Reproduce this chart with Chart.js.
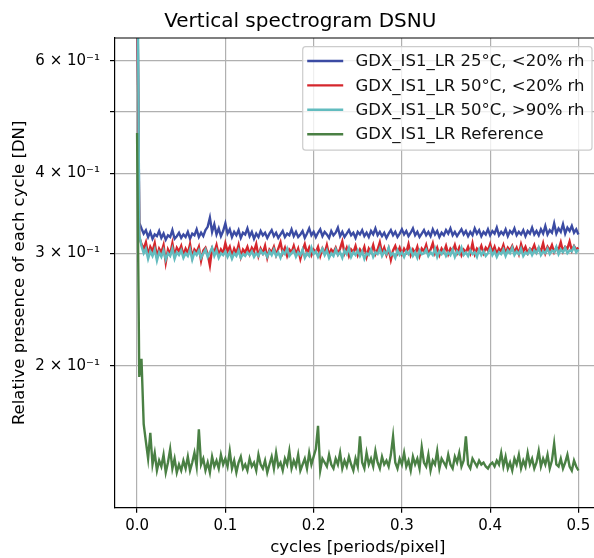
<!DOCTYPE html>
<html>
<head>
<meta charset="utf-8">
<script src="https://cdn.jsdelivr.net/npm/chart.js@4"></script>
<style>
  html, body { margin: 0; padding: 0; overflow: hidden; background: #fff; }
  canvas { display: block; }
</style>
</head>
<body>
<canvas id="chart" width="601" height="558"></canvas>
<script>
// --- data (log y axis) ---
const seriesLabels = [
  "GDX_IS1_LR 25°C, <20% rh",
  "GDX_IS1_LR 50°C, <20% rh",
  "GDX_IS1_LR 50°C, >90% rh",
  "GDX_IS1_LR Reference"
];
const seriesColors = ["#3b4ba3", "#d5262c", "#62bcbf", "#4a8044"];

const freqStep = 0.0025;   // cycles grid from 0 to 0.5
const xTicks = [0.0, 0.1, 0.2, 0.3, 0.4, 0.5];
const yTicks = [0.2, 0.3, 0.4, 0.5, 0.6];
const yTickLabels = { 0.2: "2 × 10⁻¹", 0.3: "3 × 10⁻¹", 0.4: "4 × 10⁻¹", 0.5: "", 0.6: "6 × 10⁻¹" };

const blue25dry = [0.90,
  0.335,0.328,0.322,0.326,0.318,0.324,0.316,0.321,0.319,0.325,
  0.317,0.322,0.315,0.320,0.318,0.326,0.316,0.319,0.323,0.317,
  0.321,0.318,0.324,0.316,0.322,0.320,0.327,0.318,0.323,0.319,
  0.326,0.330,0.341,0.324,0.333,0.321,0.328,0.319,0.325,0.334,
  0.322,0.327,0.318,0.324,0.320,0.326,0.317,0.323,0.321,0.328,
  0.319,0.324,0.316,0.322,0.318,0.325,0.320,0.323,0.317,0.322,
  0.326,0.319,0.323,0.317,0.321,0.325,0.318,0.322,0.320,0.327,
  0.319,0.324,0.318,0.321,0.325,0.317,0.322,0.328,0.320,0.324,
  0.318,0.323,0.327,0.319,0.324,0.321,0.317,0.325,0.320,0.323,
  0.329,0.319,0.324,0.318,0.322,0.326,0.320,0.323,0.317,0.324,
  0.321,0.326,0.319,0.323,0.318,0.325,0.321,0.328,0.320,0.324,
  0.319,0.323,0.317,0.322,0.326,0.320,0.324,0.318,0.322,0.327,
  0.321,0.325,0.319,0.323,0.328,0.320,0.324,0.318,0.322,0.326,
  0.320,0.324,0.319,0.327,0.321,0.325,0.318,0.323,0.320,0.326,
  0.322,0.328,0.320,0.324,0.319,0.323,0.327,0.321,0.325,0.319,
  0.324,0.320,0.328,0.322,0.326,0.319,0.324,0.321,0.327,0.320,
  0.325,0.322,0.329,0.320,0.324,0.321,0.327,0.319,0.325,0.322,
  0.328,0.320,0.324,0.321,0.326,0.319,0.325,0.322,0.329,0.321,
  0.325,0.320,0.327,0.322,0.331,0.321,0.326,0.323,0.334,0.322,
  0.328,0.324,0.333,0.322,0.329,0.325,0.331,0.323,0.327,0.321];

const red50dry = [0.90,
  0.318,0.310,0.305,0.312,0.298,0.307,0.302,0.311,0.296,0.305,
  0.301,0.309,0.290,0.304,0.299,0.311,0.297,0.306,0.302,0.308,
  0.298,0.305,0.300,0.310,0.296,0.304,0.301,0.307,0.292,0.303,
  0.306,0.299,0.287,0.305,0.301,0.309,0.298,0.304,0.300,0.311,
  0.302,0.307,0.297,0.305,0.300,0.309,0.296,0.304,0.301,0.307,
  0.299,0.306,0.302,0.310,0.297,0.305,0.300,0.308,0.295,0.304,
  0.301,0.307,0.298,0.305,0.312,0.300,0.306,0.297,0.304,0.301,
  0.308,0.299,0.305,0.294,0.303,0.310,0.300,0.306,0.298,0.304,
  0.301,0.307,0.297,0.305,0.300,0.309,0.298,0.304,0.301,0.306,
  0.299,0.305,0.313,0.300,0.306,0.297,0.304,0.301,0.308,0.298,
  0.304,0.300,0.307,0.296,0.305,0.301,0.309,0.299,0.304,0.312,
  0.300,0.306,0.298,0.305,0.293,0.303,0.308,0.300,0.306,0.299,
  0.305,0.301,0.310,0.298,0.304,0.300,0.307,0.297,0.305,0.302,
  0.309,0.299,0.304,0.311,0.300,0.306,0.298,0.305,0.301,0.308,
  0.299,0.305,0.302,0.309,0.300,0.306,0.298,0.304,0.301,0.307,
  0.300,0.311,0.299,0.305,0.302,0.308,0.300,0.306,0.303,0.310,
  0.301,0.307,0.299,0.305,0.302,0.309,0.300,0.306,0.303,0.308,
  0.301,0.306,0.299,0.310,0.302,0.307,0.300,0.305,0.303,0.309,
  0.301,0.306,0.302,0.311,0.300,0.307,0.303,0.309,0.301,0.306,
  0.304,0.312,0.302,0.307,0.305,0.313,0.303,0.308,0.304,0.306];

const cyan50wet = [1.20,
  0.320,0.308,0.300,0.305,0.294,0.302,0.297,0.304,0.292,0.301,
  0.296,0.303,0.293,0.300,0.297,0.305,0.294,0.301,0.298,0.303,
  0.295,0.300,0.297,0.304,0.293,0.301,0.298,0.303,0.295,0.300,
  0.304,0.296,0.301,0.306,0.297,0.303,0.295,0.300,0.298,0.302,
  0.296,0.301,0.294,0.300,0.297,0.303,0.295,0.299,0.297,0.301,
  0.298,0.302,0.296,0.300,0.297,0.303,0.299,0.301,0.296,0.302,
  0.298,0.304,0.297,0.301,0.295,0.302,0.299,0.305,0.297,0.300,
  0.303,0.296,0.301,0.298,0.304,0.295,0.300,0.297,0.306,0.299,
  0.302,0.296,0.301,0.305,0.298,0.303,0.295,0.300,0.297,0.304,
  0.298,0.301,0.295,0.303,0.299,0.306,0.296,0.301,0.298,0.303,
  0.297,0.302,0.294,0.300,0.298,0.304,0.296,0.301,0.299,0.305,
  0.297,0.302,0.299,0.306,0.298,0.300,0.295,0.303,0.298,0.301,
  0.296,0.302,0.299,0.304,0.297,0.301,0.295,0.303,0.299,0.300,
  0.304,0.297,0.301,0.298,0.305,0.296,0.302,0.299,0.303,0.297,
  0.301,0.298,0.304,0.296,0.302,0.299,0.306,0.298,0.301,0.297,
  0.303,0.299,0.301,0.296,0.304,0.298,0.302,0.297,0.300,0.305,
  0.298,0.302,0.296,0.301,0.299,0.304,0.297,0.303,0.300,0.306,
  0.298,0.302,0.299,0.305,0.297,0.301,0.299,0.304,0.298,0.303,
  0.300,0.306,0.298,0.302,0.300,0.305,0.299,0.303,0.301,0.307,
  0.299,0.304,0.301,0.306,0.300,0.303,0.302,0.307,0.301,0.304];

const greenRef = [0.463,
  0.192,0.205,0.162,0.152,0.143,0.157,0.140,0.146,0.137,0.142,
  0.139,0.145,0.136,0.141,0.148,0.138,0.143,0.136,0.140,0.137,
  0.142,0.138,0.144,0.137,0.141,0.146,0.139,0.159,0.140,0.143,
  0.137,0.141,0.136,0.144,0.139,0.142,0.138,0.145,0.140,0.143,
  0.139,0.147,0.138,0.142,0.136,0.141,0.144,0.138,0.140,0.137,
  0.143,0.139,0.141,0.137,0.145,0.140,0.138,0.142,0.136,0.140,
  0.144,0.138,0.146,0.139,0.141,0.137,0.143,0.140,0.147,0.138,
  0.142,0.139,0.145,0.137,0.140,0.143,0.138,0.146,0.140,0.144,
  0.148,0.161,0.137,0.143,0.141,0.139,0.145,0.140,0.138,0.143,
  0.140,0.146,0.138,0.142,0.139,0.144,0.140,0.137,0.143,0.139,
  0.155,0.141,0.138,0.146,0.140,0.143,0.139,0.147,0.141,0.138,
  0.144,0.140,0.142,0.139,0.145,0.155,0.141,0.138,0.143,0.140,
  0.146,0.139,0.142,0.137,0.144,0.140,0.143,0.138,0.149,0.141,
  0.139,0.145,0.137,0.142,0.140,0.147,0.138,0.143,0.141,0.139,
  0.145,0.140,0.138,0.144,0.141,0.146,0.139,0.142,0.155,0.140,
  0.138,0.143,0.141,0.139,0.142,0.140,0.141,0.139,0.138,0.140,
  0.141,0.139,0.142,0.140,0.146,0.139,0.144,0.138,0.141,0.137,
  0.143,0.140,0.145,0.138,0.142,0.139,0.146,0.140,0.143,0.138,
  0.141,0.147,0.139,0.143,0.140,0.145,0.138,0.142,0.151,0.140,
  0.139,0.143,0.138,0.141,0.145,0.139,0.137,0.142,0.139,0.137];

const allSeries = [blue25dry, red50dry, cyan50wet, greenRef];

// x grid (frequency bins)
const cycles = blue25dry.map((_, i) => +(i * freqStep).toFixed(4));

const FONT = "'DejaVu Sans', sans-serif";
const LABEL_SIZE = 16.5;

// =========================
// legend inside the axes + top spine
// =========================
const boxLegend = {
  id: "boxLegend",
  afterDraw(chart) {
    const ctx = chart.ctx;
    const area = chart.chartArea;

    // top spine
    ctx.save();
    ctx.strokeStyle = "#000";
    ctx.lineWidth = 1.2;
    ctx.beginPath();
    ctx.moveTo(area.left, area.top);
    ctx.lineTo(area.right, area.top);
    ctx.stroke();

    ctx.font = LABEL_SIZE + "px " + FONT;
    const textW = Math.max(...seriesLabels.map(t => ctx.measureText(t).width));
    const w = 4.5 + 36 + 12.3 + textW + 7.5;
    const h = 103.5;
    const x0 = area.right - 8.5 - w;
    const y0 = area.top + 8.7;

    ctx.beginPath();
    ctx.roundRect(x0, y0, w, h, 3);
    ctx.fillStyle = "rgba(255,255,255,0.8)";
    ctx.fill();
    ctx.strokeStyle = "#cccccc";
    ctx.lineWidth = 1.2;
    ctx.stroke();

    chart.data.datasets.forEach((ds, i) => {
      const cy = y0 + 14.3 + i * 24.4;
      ctx.strokeStyle = ds.borderColor;
      ctx.lineWidth = 2.4;
      ctx.beginPath();
      ctx.moveTo(x0 + 4.5, cy);
      ctx.lineTo(x0 + 40.5, cy);
      ctx.stroke();
      ctx.fillStyle = "#111";
      ctx.textBaseline = "middle";
      ctx.textAlign = "left";
      ctx.fillText(ds.label, x0 + 52.8, cy + 1);
    });
    ctx.restore();
  }
};

const datasets = allSeries.map((vals, i) => ({
  label: seriesLabels[i],
  data: vals.map((v, k) => ({ x: cycles[k], y: v })),
  borderColor: seriesColors[i],
  borderWidth: 2.4,
  pointRadius: 0,
  tension: 0,
  order: allSeries.length - i
}));

new Chart(document.getElementById("chart"), {
  type: "line",
  data: { datasets },
  plugins: [boxLegend],
  options: {
    responsive: false,
    animation: false,
    devicePixelRatio: 1,
    layout: { padding: { left: 0, right: 0.5, top: 0, bottom: 0 } },
    plugins: {
      legend: { display: false },
      tooltip: { enabled: false },
      title: {
        display: true,
        text: "Vertical spectrogram DSNU",
        color: "#000",
        font: { family: FONT, size: 20, weight: "normal" },
        padding: { top: 10, bottom: 4 }
      }
    },
    scales: {
      x: {
        type: "linear",
        min: -0.025,
        max: 0.525,
        afterBuildTicks: s => { s.ticks = xTicks.map(v => ({ value: v })); },
        afterFit: s => { s.height = 50.3; },
        ticks: {
          color: "#000",
          font: { family: FONT, size: 15 },
          padding: 4,
          maxRotation: 0,
          callback: v => v.toFixed(1)
        },
        grid: { color: "#b0b0b0", lineWidth: 1.2, tickColor: "#000", tickLength: 5 },
        border: { display: true, color: "#000", width: 1.2 },
        title: {
          display: true,
          text: "cycles [periods/pixel]",
          color: "#000",
          font: { family: FONT, size: LABEL_SIZE },
          padding: { top: 1, bottom: 0 }
        }
      },
      y: {
        type: "logarithmic",
        min: 0.1198,
        max: 0.652,
        afterBuildTicks: s => { s.ticks = yTicks.map(v => ({ value: v })); },
        afterFit: s => { s.width = 115; },
        ticks: {
          color: "#000",
          font: { family: FONT, size: 15 },
          padding: 10,
          callback: v => yTickLabels[v] ?? ""
        },
        grid: { color: "#b0b0b0", lineWidth: 1.2, tickColor: "#000", tickLength: 5 },
        border: { display: true, color: "#000", width: 1.2 },
        title: {
          display: true,
          text: "Relative presence of each cycle [DN]",
          color: "#000",
          font: { family: FONT, size: LABEL_SIZE },
          padding: { top: 10, bottom: 0 }
        }
      }
    }
  }
});
</script>
</body>
</html>
